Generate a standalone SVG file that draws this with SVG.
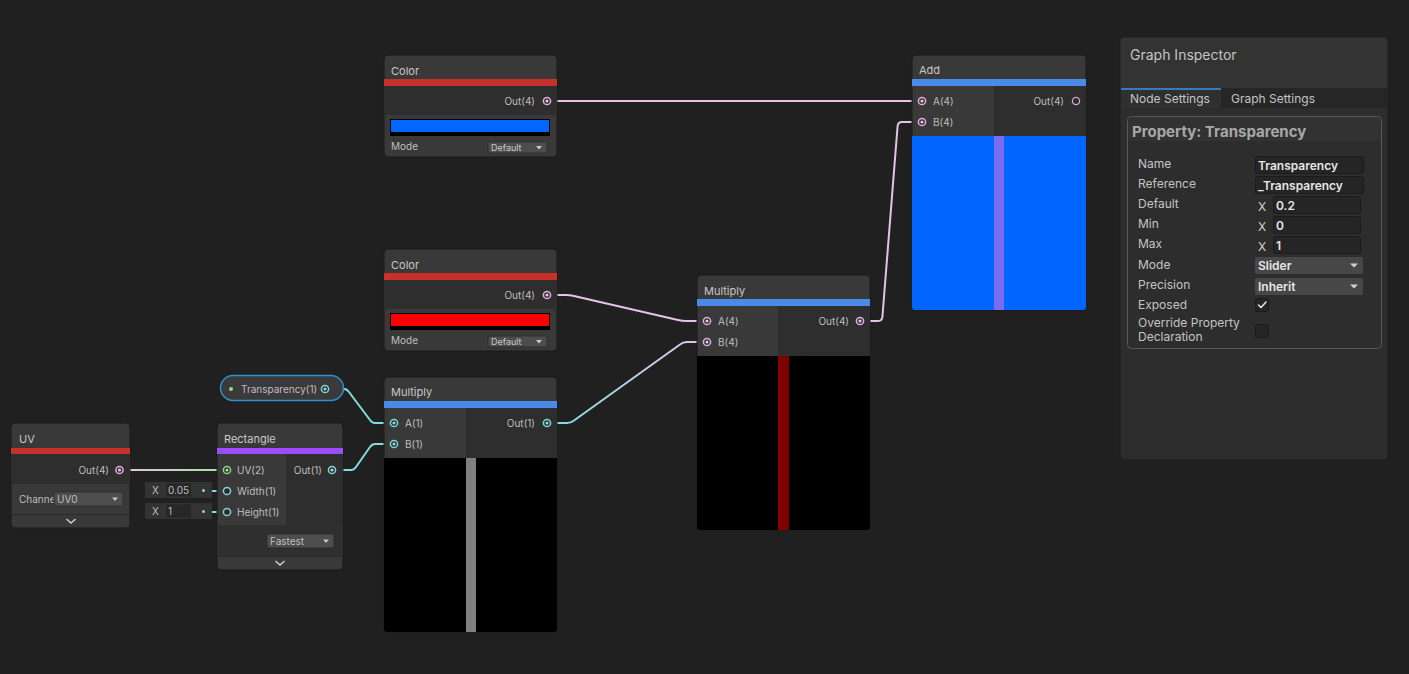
<svg xmlns="http://www.w3.org/2000/svg" width="1409" height="674" viewBox="0 0 1409 674">
<defs>
<style>
.title{font-family:Inter,"Noto Sans","Liberation Sans",sans-serif;font-size:11px;fill:#c8c8c8}
.lbl{font-family:Inter,"Noto Sans","Liberation Sans",sans-serif;font-size:10px;fill:#bebebe}
.lblr{font-family:Inter,"Noto Sans","Liberation Sans",sans-serif;font-size:10px;fill:#bebebe;text-anchor:end}
.small{font-family:Inter,"Noto Sans","Liberation Sans",sans-serif;font-size:9px;fill:#c8c8c8}
.ins{font-family:Inter,"Noto Sans","Liberation Sans",sans-serif;font-size:12px;fill:#c4c4c4}
.insv{font-family:Inter,"Noto Sans","Liberation Sans",sans-serif;font-size:12px;fill:#e6e6e6;font-weight:600}
.hdr{fill:#393939}
.outbg{fill:#2e2e2e}
.node{stroke:#1a1a1a;stroke-width:1}
.dd{fill:#4d4d4d;stroke:#2a2a2a;stroke-width:0.8}
.edgeP{fill:none;stroke:#e6c2e8;stroke-width:2}
.edgeC{fill:none;stroke:#80dcdf;stroke-width:2}
.pP{fill:#2b2b2b;stroke:#dcb2dc;stroke-width:1.5}
.pC{fill:#2b2b2b;stroke:#7fd6d9;stroke-width:1.5}
.pG{fill:#2b2b2b;stroke:#93d68f;stroke-width:1.5}
.dP{fill:#e6bfe6}
.dC{fill:#80dcdf}
.dG{fill:#9be095}
.fld{fill:#252525;stroke:#1b1b1b;stroke-width:1}
.chev{fill:none;stroke:#d0d0d0;stroke-width:1.6;stroke-linecap:round;stroke-linejoin:round}
</style>
<linearGradient id="gCP" gradientUnits="userSpaceOnUse" x1="552" y1="0" x2="702" y2="0">
<stop offset="0" stop-color="#80dcdf"/><stop offset="1" stop-color="#e6c2e8"/>
</linearGradient>
<linearGradient id="gPG" gradientUnits="userSpaceOnUse" x1="124" y1="0" x2="222" y2="0">
<stop offset="0" stop-color="#e6c2e8"/><stop offset="1" stop-color="#a9e2a4"/>
</linearGradient>
</defs>
<rect x="0" y="0" width="1409" height="674" fill="#202020"/>

<g id="connectors">
<path class="edgeP" d="M551 101 H918"/>
<path class="edgeP" d="M552 295 H566 Q570 295 574 296 L678 320 Q682 321 686 321 H702"/>
<path fill="none" stroke="url(#gCP)" stroke-width="2" d="M552 423 H567 Q571 423 574 420.5 L680 344.5 Q683 342 687 342 H702"/>
<path class="edgeP" d="M865 321 H878 Q882 321 882.4 317 L897.6 126 Q898 122 902 122 H917"/>
<path fill="none" stroke="url(#gPG)" stroke-width="2" d="M124 470 H222"/>
<path class="edgeC" d="M330 389 H344 Q347 389 349 392 L370 420 Q372 423 375 423 H389"/>
<path class="edgeC" d="M337 470 H351 Q354 470 356 467 L370 447 Q372 444 375 444 H389"/>
<path class="edgeC" d="M205 491 H222"/>
<path class="edgeC" d="M205 512 H222"/>
</g>

<g id="node-color1">
<rect class="hdr node" x="384" y="55" width="173" height="102" rx="4"/>
<rect fill="#c8302a" x="384" y="79" width="173" height="7"/>
<rect class="outbg" x="384" y="86" width="173" height="29"/>
<text class="title" x="391" y="74.5">Color</text>
<text class="lblr" x="535" y="105">Out(4)</text>
<circle class="pP" cx="547" cy="101" r="3.6"/><circle class="dP" cx="547" cy="101" r="1.6"/>
<rect x="390" y="119" width="160" height="17" fill="#000"/>
<rect x="391" y="120" width="158" height="12" fill="#0068ff"/>
<text class="lbl" x="391" y="150">Mode</text>
<rect class="dd" x="488" y="142" width="59" height="11" rx="2"/>
<text class="small" x="491" y="151">Default</text>
<path d="M536 146 L542 146 L539 149.5 Z" fill="#c8c8c8"/>
</g>

<g id="node-color2">
<rect class="hdr node" x="384" y="249" width="173" height="102" rx="4"/>
<rect fill="#c8302a" x="384" y="273" width="173" height="7"/>
<rect class="outbg" x="384" y="280" width="173" height="29"/>
<text class="title" x="391" y="268.5">Color</text>
<text class="lblr" x="535" y="299">Out(4)</text>
<circle class="pP" cx="547" cy="295" r="3.6"/><circle class="dP" cx="547" cy="295" r="1.6"/>
<rect x="390" y="313" width="160" height="17" fill="#000"/>
<rect x="391" y="314" width="158" height="12" fill="#ff0000"/>
<text class="lbl" x="391" y="344">Mode</text>
<rect class="dd" x="488" y="336" width="59" height="11" rx="2"/>
<text class="small" x="491" y="345">Default</text>
<path d="M536 340 L542 340 L539 343.5 Z" fill="#c8c8c8"/>
</g>

<g id="node-multiply1">
<rect class="hdr node" x="384" y="377" width="173" height="255" rx="4"/>
<rect fill="#4a8ae8" x="384" y="401" width="173" height="7"/>
<rect class="outbg" x="466" y="408" width="91" height="50"/>
<rect fill="#000" x="384" y="458" width="173" height="174" rx="3"/>
<rect fill="#000" x="384" y="458" width="173" height="10"/>
<rect fill="#808080" x="466" y="458" width="10" height="174"/>
<text class="title" x="391" y="396">Multiply</text>
<text class="lbl" x="405" y="427">A(1)</text>
<text class="lbl" x="405" y="448">B(1)</text>
<text class="lblr" x="535" y="427">Out(1)</text>
<circle class="pC" cx="394" cy="423" r="3.6"/><circle class="dC" cx="394" cy="423" r="1.6"/>
<circle class="pC" cx="394" cy="444" r="3.6"/><circle class="dC" cx="394" cy="444" r="1.6"/>
<circle class="pC" cx="547" cy="423" r="3.6"/><circle class="dC" cx="547" cy="423" r="1.6"/>
</g>

<g id="node-multiply2">
<rect class="hdr node" x="697" y="275" width="173" height="255" rx="4"/>
<rect fill="#4a8ae8" x="697" y="299" width="173" height="7"/>
<rect class="outbg" x="778" y="306" width="92" height="50"/>
<rect fill="#000" x="697" y="356" width="173" height="174" rx="3"/>
<rect fill="#000" x="697" y="356" width="173" height="10"/>
<rect fill="#800000" x="778" y="356" width="11" height="174"/>
<text class="title" x="704" y="294.5">Multiply</text>
<text class="lbl" x="718" y="325">A(4)</text>
<text class="lbl" x="718" y="346">B(4)</text>
<text class="lblr" x="849" y="325">Out(4)</text>
<circle class="pP" cx="707" cy="321" r="3.6"/><circle class="dP" cx="707" cy="321" r="1.6"/>
<circle class="pP" cx="707" cy="342" r="3.6"/><circle class="dP" cx="707" cy="342" r="1.6"/>
<circle class="pP" cx="860" cy="321" r="3.6"/><circle class="dP" cx="860" cy="321" r="1.6"/>
</g>

<g id="node-add">
<rect class="hdr node" x="912" y="55" width="174" height="255" rx="4"/>
<rect fill="#4a8ae8" x="912" y="79" width="174" height="7"/>
<rect class="outbg" x="994" y="86" width="92" height="50"/>
<rect fill="#0066ff" x="912" y="136" width="174" height="174" rx="3"/>
<rect fill="#0066ff" x="912" y="136" width="174" height="10"/>
<rect fill="#7a6cf0" x="994" y="136" width="10" height="174"/>
<text class="title" x="919" y="74">Add</text>
<text class="lbl" x="933" y="105">A(4)</text>
<text class="lbl" x="933" y="126">B(4)</text>
<text class="lblr" x="1064" y="105">Out(4)</text>
<circle class="pP" cx="922" cy="101" r="3.6"/><circle class="dP" cx="922" cy="101" r="1.6"/>
<circle class="pP" cx="922" cy="122" r="3.6"/><circle class="dP" cx="922" cy="122" r="1.6"/>
<circle cx="1076" cy="101" r="3.6" fill="none" stroke="#cfa9cf" stroke-width="1.3"/>
</g>

<g id="node-uv">
<rect class="hdr node" x="11" y="423" width="119" height="105" rx="4"/>
<rect fill="#c8302a" x="11" y="448" width="119" height="6"/>
<rect class="outbg" x="11" y="454" width="119" height="30"/>
<rect fill="#2a2a2a" x="11" y="514" width="119" height="1"/>
<text class="title" x="19" y="443">UV</text>
<text class="lblr" x="109" y="474">Out(4)</text>
<circle class="pP" cx="119.5" cy="470" r="3.6"/><circle class="dP" cx="119.5" cy="470" r="1.6"/>
<text class="lbl" x="19" y="503">Channe</text>
<rect class="dd" x="54" y="492" width="69" height="14" rx="2"/>
<text class="lbl" x="57" y="503" fill="#d8d8d8">UV0</text>
<path d="M112 497.5 L118 497.5 L115 501 Z" fill="#c8c8c8"/>
<path class="chev" d="M67 519.5 L71 523 L75 519.5"/>
</g>

<g id="node-rectangle">
<rect class="hdr node" x="217" y="423" width="126" height="147" rx="4"/>
<rect fill="#9e4cff" x="217" y="448" width="126" height="6"/>
<rect class="outbg" x="286" y="454" width="57" height="71"/>
<rect fill="#2f2f2f" x="217" y="525" width="126" height="31"/>
<rect fill="#2a2a2a" x="217" y="556" width="126" height="1"/>
<text class="title" x="224" y="443">Rectangle</text>
<text class="lbl" x="237" y="474">UV(2)</text>
<text class="lbl" x="237" y="495">Width(1)</text>
<text class="lbl" x="237" y="516">Height(1)</text>
<text class="lblr" x="322" y="474">Out(1)</text>
<circle class="pG" cx="227" cy="470" r="3.6"/><circle class="dG" cx="227" cy="470" r="1.6"/>
<circle class="pC" cx="227" cy="491" r="3.6"/>
<circle class="pC" cx="227" cy="512" r="3.6"/>
<circle class="pC" cx="332" cy="470" r="3.6"/><circle class="dC" cx="332" cy="470" r="1.6"/>
<rect class="dd" x="267" y="534" width="67" height="14" rx="2"/>
<text class="lbl" x="270" y="545" fill="#d8d8d8">Fastest</text>
<path d="M323 539.5 L329 539.5 L326 543 Z" fill="#c8c8c8"/>
<path class="chev" d="M276 561.5 L280 565 L284 561.5"/>
</g>

<g id="field-width">
<rect fill="#333" x="145" y="482" width="67" height="16"/>
<rect fill="#272727" x="166" y="483.5" width="25" height="13" rx="1"/>
<text class="lbl" x="152" y="494">X</text>
<text class="lbl" x="168" y="494" fill="#d8d8d8">0.05</text>
<circle class="dC" cx="203.5" cy="490.5" r="1.5"/>
</g>
<g id="field-height">
<rect fill="#333" x="145" y="503" width="67" height="16"/>
<rect fill="#272727" x="166" y="504.5" width="25" height="13" rx="1"/>
<text class="lbl" x="152" y="515">X</text>
<text class="lbl" x="168" y="515" fill="#d8d8d8">1</text>
<circle class="dC" cx="203.5" cy="511.5" r="1.5"/>
</g>

<g id="node-transparency">
<rect x="220.5" y="375.5" width="123" height="25" rx="12.5" fill="#3a3a3a" stroke="#2f8fd0" stroke-width="1.5"/>
<circle cx="231" cy="389" r="2" fill="#8ee07c"/>
<text class="lbl" x="241" y="393">Transparency(1)</text>
<circle class="pC" cx="325" cy="389" r="3.6"/><circle class="dC" cx="325" cy="389" r="1.6"/>
</g>

<g id="graph-inspector">
<rect x="1120" y="37" width="268" height="423" rx="4" fill="#2d2d2d" stroke="#1c1c1c" stroke-width="1"/>
<path d="M1120.5 88 V41 Q1120.5 37.5 1124 37.5 H1384 Q1387.5 37.5 1387.5 41 V88 Z" fill="#333333"/>
<rect x="1121" y="88" width="266" height="20" fill="#262626"/>
<rect x="1121" y="88" width="100" height="20" fill="#2f2f2f"/>
<rect x="1121" y="88" width="100" height="2" fill="#3a79bb"/>
<text class="ins" x="1130" y="60" style="font-size:14px">Graph Inspector</text>
<text class="ins" x="1130" y="103">Node Settings</text>
<text class="ins" x="1231" y="103">Graph Settings</text>
<rect x="1127.5" y="116.5" width="254" height="232" rx="4" fill="#2d2d2d" stroke="#585858" stroke-width="1"/>
<path d="M1128 141 V121 Q1128 117 1132 117 H1377 Q1381 117 1381 121 V141 Z" fill="#323232"/>
<text x="1132" y="137" style="font-family:Inter,'Noto Sans','Liberation Sans',sans-serif;font-size:15px;font-weight:700;fill:#a8a8a8">Property: Transparency</text>
<text class="ins" x="1138" y="167.5">Name</text>
<text class="ins" x="1138" y="187.5">Reference</text>
<text class="ins" x="1138" y="207.5">Default</text>
<text class="ins" x="1138" y="227.5">Min</text>
<text class="ins" x="1138" y="247.5">Max</text>
<text class="ins" x="1138" y="268.5">Mode</text>
<text class="ins" x="1138" y="289">Precision</text>
<text class="ins" x="1138" y="308.5">Exposed</text>
<text class="ins" x="1138" y="326.5">Override Property</text>
<text class="ins" x="1138" y="341">Declaration</text>
<rect class="fld" x="1255.5" y="156.5" width="108" height="17" rx="2"/>
<text class="insv" x="1258" y="170">Transparency</text>
<rect class="fld" x="1255.5" y="176.5" width="108" height="17" rx="2"/>
<text class="insv" x="1258" y="190">_Transparency</text>
<text class="ins" x="1258" y="210.5" style="fill:#d0d0d0">X</text>
<rect class="fld" x="1273.5" y="196.5" width="87" height="17" rx="2"/>
<text class="insv" x="1276" y="210">0.2</text>
<text class="ins" x="1258" y="230.5" style="fill:#d0d0d0">X</text>
<rect class="fld" x="1273.5" y="216.5" width="87" height="17" rx="2"/>
<text class="insv" x="1276" y="230">0</text>
<text class="ins" x="1258" y="250.5" style="fill:#d0d0d0">X</text>
<rect class="fld" x="1273.5" y="236.5" width="87" height="17" rx="2"/>
<text class="insv" x="1276" y="250">1</text>
<rect x="1255" y="257" width="108" height="17" rx="2" fill="#474747"/>
<text class="insv" x="1258" y="270">Slider</text>
<path d="M1350 263.5 L1358 263.5 L1354 267.5 Z" fill="#d0d0d0"/>
<rect x="1255" y="278" width="108" height="17" rx="2" fill="#474747"/>
<text class="insv" x="1258" y="291">Inherit</text>
<path d="M1350 284.5 L1358 284.5 L1354 288.5 Z" fill="#d0d0d0"/>
<rect class="fld" x="1255.5" y="298.5" width="13" height="13" rx="2"/>
<path d="M1258.5 305 L1261 307.5 L1266 302" fill="none" stroke="#e6e6e6" stroke-width="1.5" stroke-linecap="round" stroke-linejoin="round"/>
<rect class="fld" x="1255.5" y="324.5" width="13" height="13" rx="2"/>
</g>
</svg>
